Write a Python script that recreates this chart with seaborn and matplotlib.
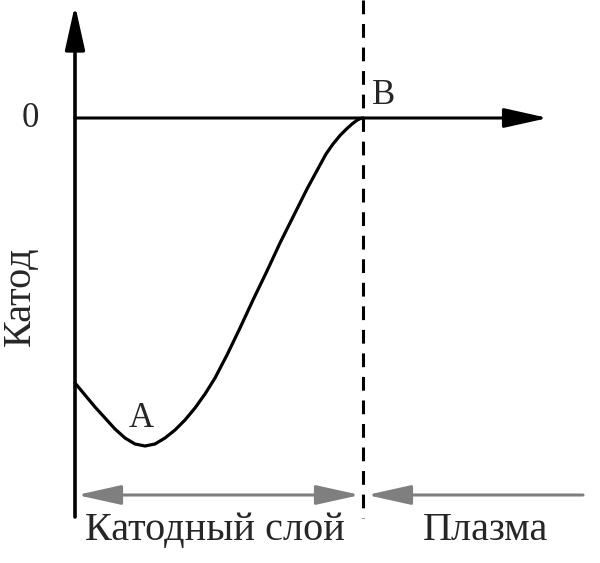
import numpy as np
import pandas as pd
import matplotlib
matplotlib.use('Agg')
import matplotlib.pyplot as plt
import seaborn as sns

# ================================
# Data: potential profile across the cathode sheath
# x = distance from cathode, phi = potential (0 at sheath edge B)
# ================================
x_pos = [0, 10, 20, 30, 40, 50, 60, 70, 80, 90, 100, 110, 120, 130, 140,
         152, 165, 178, 192, 205, 218, 232, 245, 251, 258, 265, 272, 277, 282, 285, 288]
phi = [-265, -277, -289, -300, -311, -320, -326, -328, -326, -320, -312, -302, -290, -276, -260,
       -237, -210, -182, -153, -125, -99, -71, -47, -36, -26, -17.5, -10.5, -6, -2.2, -0.7, 0]

sheath_edge = 288
labels = {'zero': '0', 'A': 'A', 'B': 'B', 'y': 'Катод',
          'sheath': 'Катодный слой', 'plasma': 'Плазма'}

curve = pd.DataFrame({'x': x_pos, 'phi': phi})

# ================================
# Plot
# ================================
sns.set_theme(style='white')
plt.rcParams['font.family'] = ['Liberation Serif', 'DejaVu Serif']

fig = plt.figure(figsize=(6, 5.63), dpi=100)
ax = fig.add_axes([0, 0, 1, 1])
ax.set_xlim(-75, 525)
ax.set_ylim(-445, 118)
ax.axis('off')

# potential curve
line = sns.lineplot(data=curve, x='x', y='phi', color='black', linewidth=2.3, ax=ax)
line.lines[0].set_solid_joinstyle('round')

black_head = dict(arrowstyle='-|>,head_length=1.35,head_width=0.3', mutation_scale=20,
                  color='black', lw=2.6, shrinkA=0, shrinkB=0)
# y axis
ax.annotate('', xy=(0, 113), xytext=(0, -399), arrowprops=black_head)
# x axis
ax.annotate('', xy=(473, 0), xytext=(0, 0), arrowprops=dict(black_head, lw=2.2))

# sheath boundary
ax.plot([sheath_edge, sheath_edge], [118, -400], color='black', lw=2.2,
        linestyle=(0, (4.5, 3.2)))

# region arrows
gray_head = dict(arrowstyle='<|-|>,head_length=1.35,head_width=0.3', mutation_scale=20,
                 color='#7f7f7f', lw=2.2, shrinkA=0, shrinkB=0)
ax.annotate('', xy=(2, -377), xytext=(sheath_edge - 3, -377), arrowprops=gray_head)
gray_one = dict(gray_head, arrowstyle='-|>,head_length=1.35,head_width=0.3')
ax.annotate('', xy=(sheath_edge + 4, -377), xytext=(508, -377), arrowprops=gray_one)

# texts
fs = 29
ax.text(-45, -1, labels['zero'], fontsize=25, ha='center', va='center')
ax.text(66, -301, labels['A'], fontsize=25, ha='center', va='center')
ax.text(309, 22, labels['B'], fontsize=25, ha='center', va='center')
ax.text(-55, -178, labels['y'], fontsize=fs, rotation=90, ha='center', va='center')
ax.text(140, -412, labels['sheath'], fontsize=fs, ha='center', va='center')
ax.text(411, -412, labels['plasma'], fontsize=fs, ha='center', va='center')

fig.savefig('out.png', dpi=100)
